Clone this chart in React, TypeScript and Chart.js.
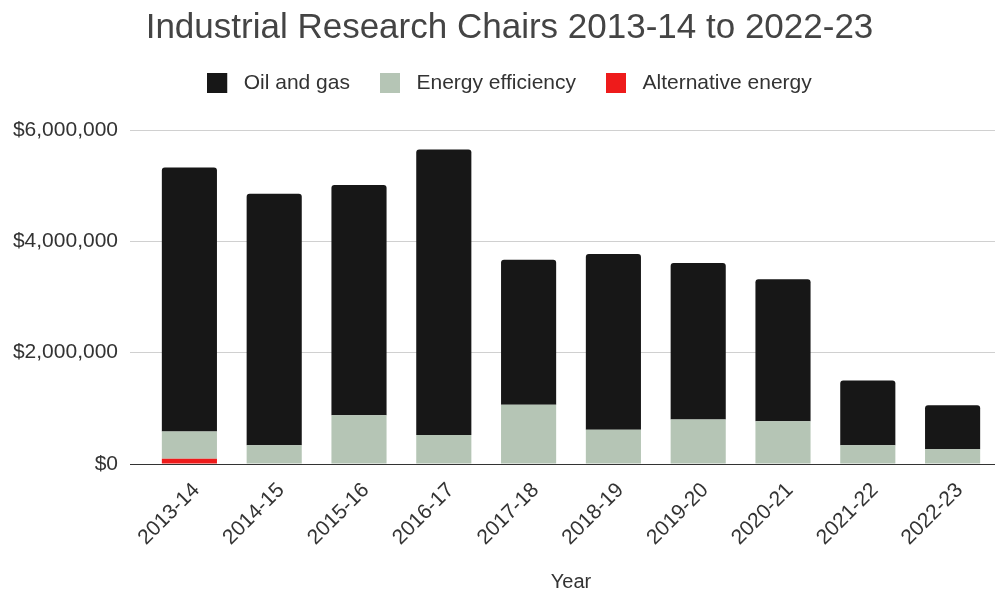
import React, { useEffect, useRef } from "react";
import { Chart, registerables } from "chart.js";

Chart.register(...registerables);

const years = [
  "2013-14", "2014-15", "2015-16", "2016-17", "2017-18",
  "2018-19", "2019-20", "2020-21", "2021-22", "2022-23",
];
const oilAndGas = [4740000, 4520000, 4135000, 5130000, 2605000, 3155000, 2810000, 2550000, 1165000, 790000];
const energyEfficiency = [490000, 336000, 875000, 520000, 1065000, 616000, 800000, 770000, 336000, 264000];
const alternativeEnergy = [95000, 0, 0, 0, 0, 0, 0, 0, 0, 0];
const seriesNames = ["Alternative energy", "Energy efficiency", "Oil and gas"];
const seriesColors = ["#ee1b1b", "#b5c5b5", "#171717"];
const chartTitle = "Industrial Research Chairs 2013-14 to 2022-23";
const xTitle = "Year";

const FONT = "'Liberation Sans', Arial, Helvetica, sans-serif";

function fmtDollar(v: number): string {
  const s = Math.round(v).toString().replace(/\B(?=(\d{3})+(?!\d))/g, ",");
  return "$" + s;
}

function makeSwatch(color: string): HTMLCanvasElement {
  const c = document.createElement("canvas");
  c.width = 26;
  c.height = 20;
  const g = c.getContext("2d")!;
  g.fillStyle = color;
  g.fillRect(0, 0, 20, 20);
  return c;
}

const legendSpacer = {
  id: "legendSpacer",
  beforeLayout(chart: any) {
    const lg = chart.legend;
    if (lg && !lg.__patched) {
      const orig = lg.fit;
      lg.fit = function () {
        orig.call(this);
        this.height += 26.5;
      };
      lg.__patched = true;
    }
  },
};

export default function App() {
  const ref = useRef<HTMLCanvasElement | null>(null);

  useEffect(() => {
    if (!ref.current) return;
    Chart.defaults.font.family = FONT;
    const swatches = seriesColors.map(makeSwatch);
    const data = [alternativeEnergy, energyEfficiency, oilAndGas];
    const chart = new Chart(ref.current, {
      type: "bar",
      data: {
        labels: years,
        datasets: data.map((d, i) => ({
          label: seriesNames[i],
          data: d,
          backgroundColor: seriesColors[i],
          borderWidth: 0,
          borderRadius: i === 2 ? 3 : 0,
          barPercentage: 0.65,
          categoryPercentage: 1,
        })),
      },
      options: {
        animation: false,
        responsive: false,
        devicePixelRatio: 1,
        layout: { padding: { left: 24, right: 4, top: 0, bottom: 0 } },
        plugins: {
          tooltip: { enabled: false },
          title: {
            display: true,
            text: chartTitle,
            color: "#444",
            font: { size: 35, weight: "normal", family: FONT },
            padding: { top: 7, bottom: -6.5 },
          },
          legend: {
            display: true,
            position: "top",
            labels: {
              usePointStyle: true,
              pointStyleWidth: 26,
              boxHeight: 20,
              padding: 30,
              color: "#333",
              font: { size: 21, family: FONT },
              sort: (a: any, b: any) => b.datasetIndex - a.datasetIndex,
              generateLabels: (ch: any) => {
                const items = (Chart.defaults.plugins.legend.labels as any).generateLabels(ch);
                return items.map((it: any) => ({ ...it, pointStyle: swatches[it.datasetIndex], lineWidth: 0 }));
              },
            },
          },
        },
        scales: {
          x: {
            stacked: true,
            grid: { display: false },
            border: { display: false },
            ticks: {
              autoSkip: false,
              minRotation: 45,
              maxRotation: 45,
              color: "#333",
              font: { size: 21, family: FONT },
              padding: 6,
              labelOffset: 7,
            },
            title: {
              display: true,
              text: xTitle,
              color: "#333",
              font: { size: 20, family: FONT },
              padding: 0,
            },
            afterFit: (s: any) => {
              s.height = 130;
            },
          },
          y: {
            stacked: true,
            min: 0,
            max: 6000000,
            border: { display: false },
            grid: {
              color: (ctx: any) => (ctx.tick && ctx.tick.value === 0 ? "#333" : "#d0d0d0"),
              tickLength: 17,
              lineWidth: 1,
            },
            ticks: {
              stepSize: 2000000,
              padding: 12,
              color: "#333",
              font: { size: 21, family: FONT },
              callback: (v: any) => fmtDollar(Number(v)),
            },
            afterFit: (s: any) => {
              s.width = 123;
              s._computeLabelArea = () => undefined;
            },
          },
        },
      },
      plugins: [legendSpacer],
    } as any);
    return () => chart.destroy();
  }, []);

  return (
    <div style={{ position: "absolute", left: 0, top: 0, width: 999, height: 594, background: "#fff" }}>
      <canvas ref={ref} width={999} height={594} style={{ display: "block", width: 999, height: 594 }} />
    </div>
  );
}
